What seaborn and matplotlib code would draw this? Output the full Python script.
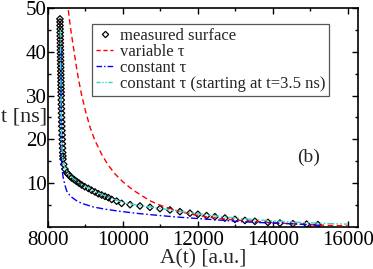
import matplotlib
matplotlib.use("Agg")
import matplotlib.pyplot as plt
import seaborn as sns
import pandas as pd
from matplotlib.lines import Line2D
from matplotlib.ticker import MultipleLocator

# measured surface: A(t) [a.u.] vs t [ns]
meas_A = [8318, 8320, 8321, 8323, 8324, 8326, 8327, 8329, 8330, 8332, 8333, 8335,
          8336, 8338, 8339, 8341, 8342, 8344, 8345, 8347, 8348, 8350, 8352, 8354,
          8356, 8358, 8360, 8362, 8365, 8368, 8372, 8376, 8380, 8384, 8388, 8392,
          8396, 8400, 8420, 8453, 8500, 8542, 8590, 8631, 8700, 8764, 8830, 8898, 8980,
          9076, 9160, 9253, 9340, 9431, 9520, 9609, 9700, 9831, 9964, 10190, 10453,
          10720, 10987, 11253, 11520, 11787, 12000, 12231, 12453, 12720, 12987,
          13253, 13520, 13867, 14187, 14533, 14898, 15200]
meas_t = [47.5, 46.8, 46.0, 45.2, 44.4, 43.6, 42.8, 42.0, 41.2, 40.4, 39.6, 38.8,
          38.0, 37.2, 36.4, 35.6, 34.8, 34.0, 33.2, 32.4, 31.6, 30.8, 30.0, 29.0,
          28.0, 27.0, 26.0, 25.0, 24.0, 23.0, 22.0, 21.0, 20.0, 19.0, 18.0, 17.0,
          16.2, 15.5, 14.3, 13.2, 12.4, 12.0, 11.6, 11.2, 10.8, 10.4, 10.0, 9.6, 9.2,
          8.8, 8.4, 8.0, 7.6, 7.3, 7.0, 6.7, 6.3, 5.9, 5.4, 5.1, 4.8,
          4.5, 4.2, 3.9, 3.5, 3.15, 2.9, 2.6, 2.35, 2.05, 1.75,
          1.5, 1.3, 1.05, 0.9, 0.75, 0.65, 0.55]

# variable tau model
var_A = [8542, 8600, 8675, 8750, 8808, 8900, 9000, 9120, 9250, 9431, 9600, 9800,
         10000, 10200, 10364, 10550, 10720, 10900, 11075, 11431, 11787, 12320,
         12853, 13387, 13920, 14631, 15200, 16000]
var_t = [49.5, 45.5, 41.2, 37.0, 34.0, 30.0, 26.5, 22.8, 19.8, 16.6, 14.2, 12.0,
         10.3, 8.9, 7.9, 6.9, 6.0, 5.3, 4.7, 3.75, 2.95, 2.2,
         1.7, 1.35, 1.0, 0.7, 0.45, 0.25]

# constant tau model
con_A = [8350, 8355, 8362, 8370, 8400, 8450, 8500, 8600, 8764, 8900, 9200, 9500,
         9900, 10500, 11400, 12300, 13100, 13700, 14600, 15330]
con_t = [40.5, 25.0, 16.0, 13.5, 11.5, 9.6, 8.2, 7.0, 6.0, 5.4, 4.6, 4.1,
         3.6, 3.0, 2.3, 1.75, 1.25, 1.0, 0.7, 0.35]

# constant tau, fit starting at t=3.5 ns
cst_A = [8330, 8338, 8348, 8360, 8390, 8453, 8542, 8700, 8898, 9253, 9609, 10000,
         10500, 11000, 11500, 12000, 12500, 13000, 13500, 14000, 14500, 15000,
         15500, 16000]
cst_t = [45.0, 37.0, 30.0, 20.0, 15.5, 13.4, 12.1, 10.9, 9.7, 8.1, 6.8, 5.6,
         4.8, 4.25, 3.6, 3.0, 2.5, 2.05, 1.7, 1.4, 1.15, 0.95, 0.78, 0.65]

labels = ["measured surface", "variable \u03c4", "constant \u03c4",
          "constant \u03c4 (starting at t=3.5 ns)"]
x_ticks = [8000, 10000, 12000, 14000, 16000]
y_ticks = [10, 20, 30, 40, 50]

sns.set_style("ticks")
SERIF = ["Liberation Serif", "DejaVu Serif"]
plt.rcParams["font.family"] = SERIF

fig, ax = plt.subplots(figsize=(3.73, 2.69), dpi=100)
fig.subplots_adjust(left=0.1287, right=0.9598, top=0.9703, bottom=0.1561)

dm = pd.DataFrame({"A": meas_A, "t": meas_t})
dv = pd.DataFrame({"A": var_A, "t": var_t})
dc = pd.DataFrame({"A": con_A, "t": con_t})
ds = pd.DataFrame({"A": cst_A, "t": cst_t})

red, blue, cyan = "#ff0000", "#0000ff", "#33d6c8"

sns.scatterplot(data=dm, x="A", y="t", ax=ax, marker="D", s=11,
                facecolor="none", edgecolor="black", linewidth=0.9, zorder=2)
l1 = sns.lineplot(data=dv, x="A", y="t", ax=ax, sort=False, estimator=None,
                  color=red, lw=1.0, zorder=3).lines[-1]
l1.set_dashes([4, 2.5])
l2 = sns.lineplot(data=dc, x="A", y="t", ax=ax, sort=False, estimator=None,
                  color=blue, lw=1.0, zorder=3).lines[-1]
l2.set_dashes([5, 1.8, 1.2, 1.8])
l3 = sns.lineplot(data=ds, x="A", y="t", ax=ax, sort=False, estimator=None,
                  color=cyan, lw=1.0, zorder=3).lines[-1]
l3.set_dashes([5, 1.5, 1.2, 1.5, 1.2, 1.5])

ax.set_xlim(8000, 16270)
ax.set_ylim(0, 50)
ax.set_xticks(x_ticks)
ax.set_xticklabels([str(v) for v in x_ticks], fontfamily=SERIF, fontsize=15)
ax.set_yticks(y_ticks)
ax.set_yticklabels([str(v) for v in y_ticks], fontfamily=SERIF, fontsize=15)
ax.xaxis.set_minor_locator(MultipleLocator(1000))
ax.yaxis.set_minor_locator(MultipleLocator(5))
ax.tick_params(which="both", direction="in", top=True, right=True,
               width=1.0, color="black", labelcolor="black")
ax.tick_params(which="major", length=4.5)
ax.tick_params(which="minor", length=2.5)
ax.tick_params(axis="x", pad=3)
ax.tick_params(axis="y", pad=1)
for sp in ax.spines.values():
    sp.set_linewidth(1.2)
    sp.set_color("black")
    sp.set_visible(True)

ax.set_xlabel("A(t) [a.u.]", fontsize=15.5, labelpad=-1, fontfamily=SERIF)
ax.set_ylabel("t [ns]", fontsize=16, rotation=0, ha="right", va="center",
              fontfamily=SERIF)
ax.yaxis.set_label_coords(-0.003, 0.5)

ax.text(0.84, 0.32, "(b)", transform=ax.transAxes, fontsize=14,
        ha="center", va="center", fontfamily=SERIF)

handles = [
    Line2D([], [], ls="none", marker="D", ms=3.2, mfc="none", mec="black", mew=0.9),
    Line2D([], [], color=red, lw=1.0, dashes=[3, 2]),
    Line2D([], [], color=blue, lw=1.0, dashes=[4, 1.5, 1, 1.5]),
    Line2D([], [], color=cyan, lw=1.0, dashes=[3, 1.2, 1, 1.2, 1, 1.2]),
]
leg = ax.legend(handles, labels, loc="upper left", bbox_to_anchor=(0.142, 0.927),
                borderaxespad=0, prop={"family": SERIF, "size": 12}, frameon=True,
                fancybox=False, edgecolor="#555555", framealpha=1, handlelength=1.0,
                handletextpad=0.4, labelspacing=0.0, borderpad=0.25,
                markerscale=1.0)
leg.get_frame().set_linewidth(0.9)

fig.savefig("out.png", dpi=100)
